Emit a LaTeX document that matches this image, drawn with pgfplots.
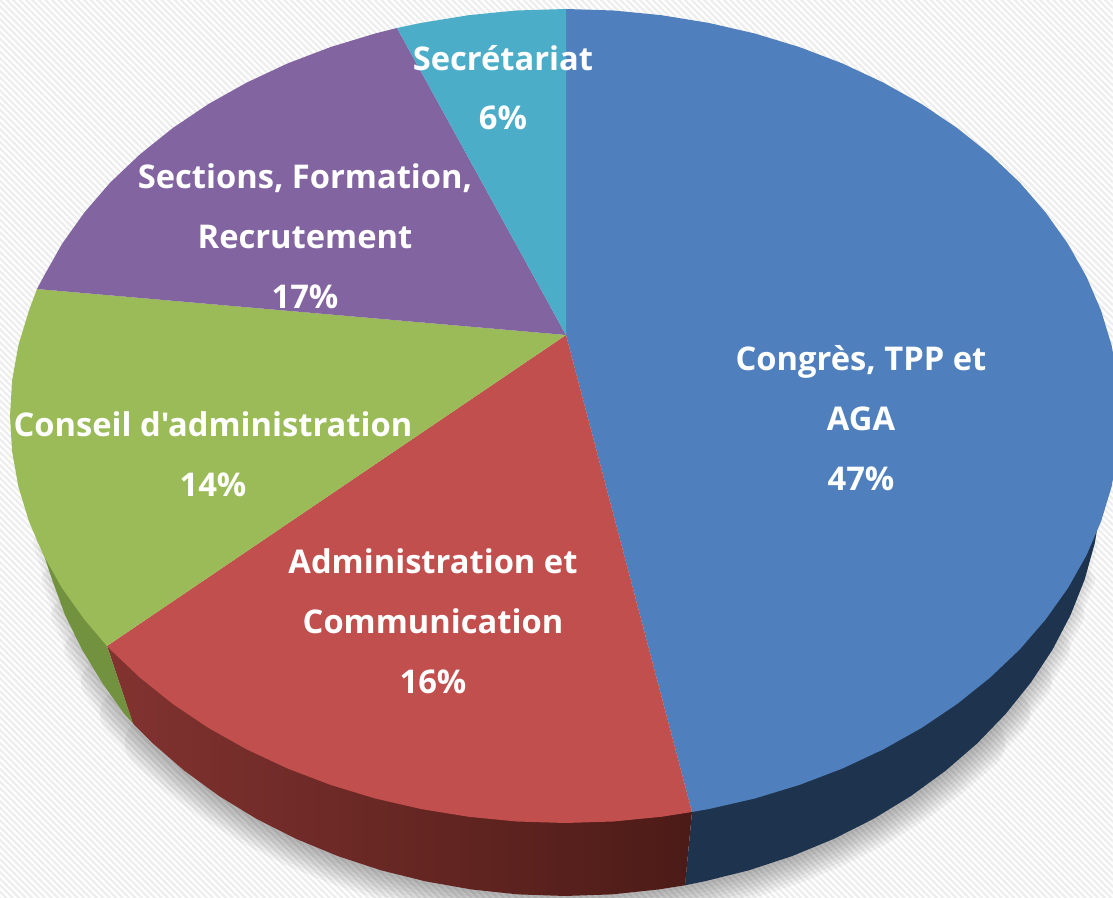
\documentclass[border=0pt]{standalone}
\usepackage{fontspec}
\newfontfamily\labfont[BoldFont={Open Sans Bold}]{Open Sans}
\usepackage{pgfplots}
\pgfplotsset{compat=1.18}
\usepackage{pgfplotstable}
\usetikzlibrary{patterns.meta}
\definecolor{cBlue}{HTML}{4F80BD}
\definecolor{cRed}{HTML}{C14F4D}
\definecolor{cGreen}{HTML}{9BBB59}
\definecolor{cPurple}{HTML}{8264A1}
\definecolor{cCyan}{HTML}{4BADC8}
\definecolor{sBlue}{HTML}{1E344E}
\definecolor{sGreen}{HTML}{73923F}
\definecolor{sRedL}{HTML}{823330}
\definecolor{sRedR}{HTML}{4C1B17}
\pgfplotstableread{
x y
1100.9 506.2
1094.8 543.1
1084.7 579.5
1070.6 615
1052.6 649.5
1030.9 682.5
1005.7 713.9
977.1 743.5
945.4 770.9
910.8 796.1
873.6 818.8
834 838.8
792.4 856
749 870.3
704.2 881.4
658.4 889.5
611.9 894.4
565 896
518.1 894.4
471.6 889.5
425.8 881.4
381 870.3
337.6 856
296 838.8
256.4 818.8
219.2 796.1
184.6 770.9
152.9 743.5
124.3 713.9
102 682.5
82 649.5
65 615
52 579.5
40 543.1
}\lowerarc
\tikzset{lab/.style={text=white,anchor=base,font=\fontsize{9.3pt}{11pt}\labfont\bfseries,inner sep=0pt}}
\begin{document}
\begin{tikzpicture}
\begin{axis}[
  scale only axis, width=11.13cm, height=8.98cm,
  xmin=0, xmax=1113, ymin=0, ymax=898, y dir=reverse,
  hide axis, no markers, clip=true]
% background
\addplot[draw=none, fill=white] coordinates {(0,0)(1113,0)(1113,898)(0,898)} -- cycle;
\addplot[draw=none, pattern={Lines[angle=-45,distance=1.3pt,line width=0.6pt]}, pattern color=black!7] coordinates {(0,0)(1113,0)(1113,898)(0,898)} -- cycle;
% soft shadow below the side wall: wider strokes over shorter stretches
\addplot[draw=black, opacity=0.04, line width=16pt, line join=round, line cap=round, restrict x to domain=150:1000] table {\lowerarc};
\addplot[draw=black, opacity=0.04, line width=14pt, line join=round, line cap=round, restrict x to domain=120:1030] table {\lowerarc};
\addplot[draw=black, opacity=0.04, line width=12pt, line join=round, line cap=round, restrict x to domain=95:1050] table {\lowerarc};
\addplot[draw=black, opacity=0.04, line width=10pt, line join=round, line cap=round, restrict x to domain=75:1065] table {\lowerarc};
\addplot[draw=black, opacity=0.04, line width=8pt, line join=round, line cap=round, restrict x to domain=58:1075] table {\lowerarc};
\addplot[draw=black, opacity=0.04, line width=6pt, line join=round, line cap=round, restrict x to domain=50:1085] table {\lowerarc};
\addplot[draw=black, opacity=0.04, line width=4pt, line join=round, line cap=round, restrict x to domain=40:1090] table {\lowerarc};
\addplot[draw=black, opacity=0.04, line width=2pt, line join=round, line cap=round, restrict x to domain=40:1095] table {\lowerarc};
% side walls
\addplot[draw=none, fill=sBlue] coordinates {
(1103,469)(1100.9,506.2)(1094.8,543.1)(1084.7,579.5)(1070.6,615)(1052.6,649.5)(1030.9,682.5)(1005.7,713.9)(977.1,743.5)(945.4,770.9)(910.8,796.1)(873.6,818.8)(834,838.8)(792.4,856)(749,870.3)(704.2,881.4)(685,885.3)(692,812)
} -- cycle;
\addplot[draw=none, left color=sRedL, right color=sRedR] coordinates {
(692,812)(685,885.3)(658.4,889.5)(611.9,894.4)(565,896)(518.1,894.4)(471.6,889.5)(425.8,881.4)(381,870.3)(337.6,856)(296,838.8)(256.4,818.8)(219.2,796.1)(184.6,770.9)(152.9,743.5)(133,723.5)(107,646)
} -- cycle;
\addplot[draw=none, fill=sGreen] coordinates {
(107,646)(133,723.5)(124.3,713.9)(102,682.5)(82,649.5)(65,615)(52,579.5)(40,543.1)(45,530)
} -- cycle;
% top face
\addplot[draw=none, fill=cBlue] coordinates {
(566,335)(566,9)(613.4,10.5)(661.4,15.2)(708.6,22.9)(754.8,33.5)(799.5,47.1)(842.5,63.5)(883.3,82.6)(921.8,104.2)(957.4,128.2)(990.1,154.4)(1019.7,182.5)(1045.6,212.5)(1068,244)(1086.5,276.8)(1101.1,310.7)(1111.6,345.3)(1117.9,380.5)(1120,416)(1117.9,451.5)(1111.6,486.7)(1101.1,521.3)(1086.5,555.2)(1068,588)(1045.6,619.5)(1019.7,649.5)(990.1,677.6)(957.4,703.8)(921.8,727.8)(883.3,749.4)(842.5,768.5)(799.5,784.9)(754.8,798.5)(708.6,809.1)(692,812)
} -- cycle;
\addplot[draw=none, fill=cRed] coordinates {
(566,335)(692,812)(661.4,816.8)(613.4,821.5)(565,823)(516.6,821.5)(468.6,816.8)(421.4,809.1)(375.2,798.5)(330.5,784.9)(287.5,768.5)(246.7,749.4)(208.2,727.8)(172.6,703.8)(139.9,677.6)(110.3,649.5)(107,646)
} -- cycle;
\addplot[draw=none, fill=cGreen] coordinates {
(566,335)(107,646)(84.4,619.5)(62,588)(43.5,555.2)(28.9,521.3)(18.4,486.7)(12.1,451.5)(10,416)(12.1,380.5)(18.4,345.3)(28.9,310.7)(37,289)
} -- cycle;
\addplot[draw=none, fill=cPurple] coordinates {
(566,335)(37,289)(43.5,276.8)(62,244)(84.4,212.5)(110.3,182.5)(139.9,154.4)(172.6,128.2)(208.2,104.2)(246.7,82.6)(287.5,63.5)(330.5,47.1)(375.2,33.5)(397,28)
} -- cycle;
\addplot[draw=none, fill=cCyan] coordinates {
(566,335)(397,28)(421.4,22.9)(468.6,15.2)(516.6,10.5)(566,9)
} -- cycle;
% labels
\node[lab] at (axis cs:861,371) {Congrès, TPP et};
\node[lab] at (axis cs:861,431) {AGA};
\node[lab] at (axis cs:861,491) {47\%};
\node[lab] at (axis cs:433,574) {Administration et};
\node[lab] at (axis cs:433,634) {Communication};
\node[lab] at (axis cs:433,694) {16\%};
\node[lab] at (axis cs:213,437) {Conseil d'administration};
\node[lab] at (axis cs:213,497) {14\%};
\node[lab] at (axis cs:305,189) {Sections, Formation,};
\node[lab] at (axis cs:305,249) {Recrutement};
\node[lab] at (axis cs:305,309) {17\%};
\node[lab] at (axis cs:503,71) {Secrétariat};
\node[lab] at (axis cs:503,130) {6\%};
\end{axis}
\end{tikzpicture}
\end{document}
